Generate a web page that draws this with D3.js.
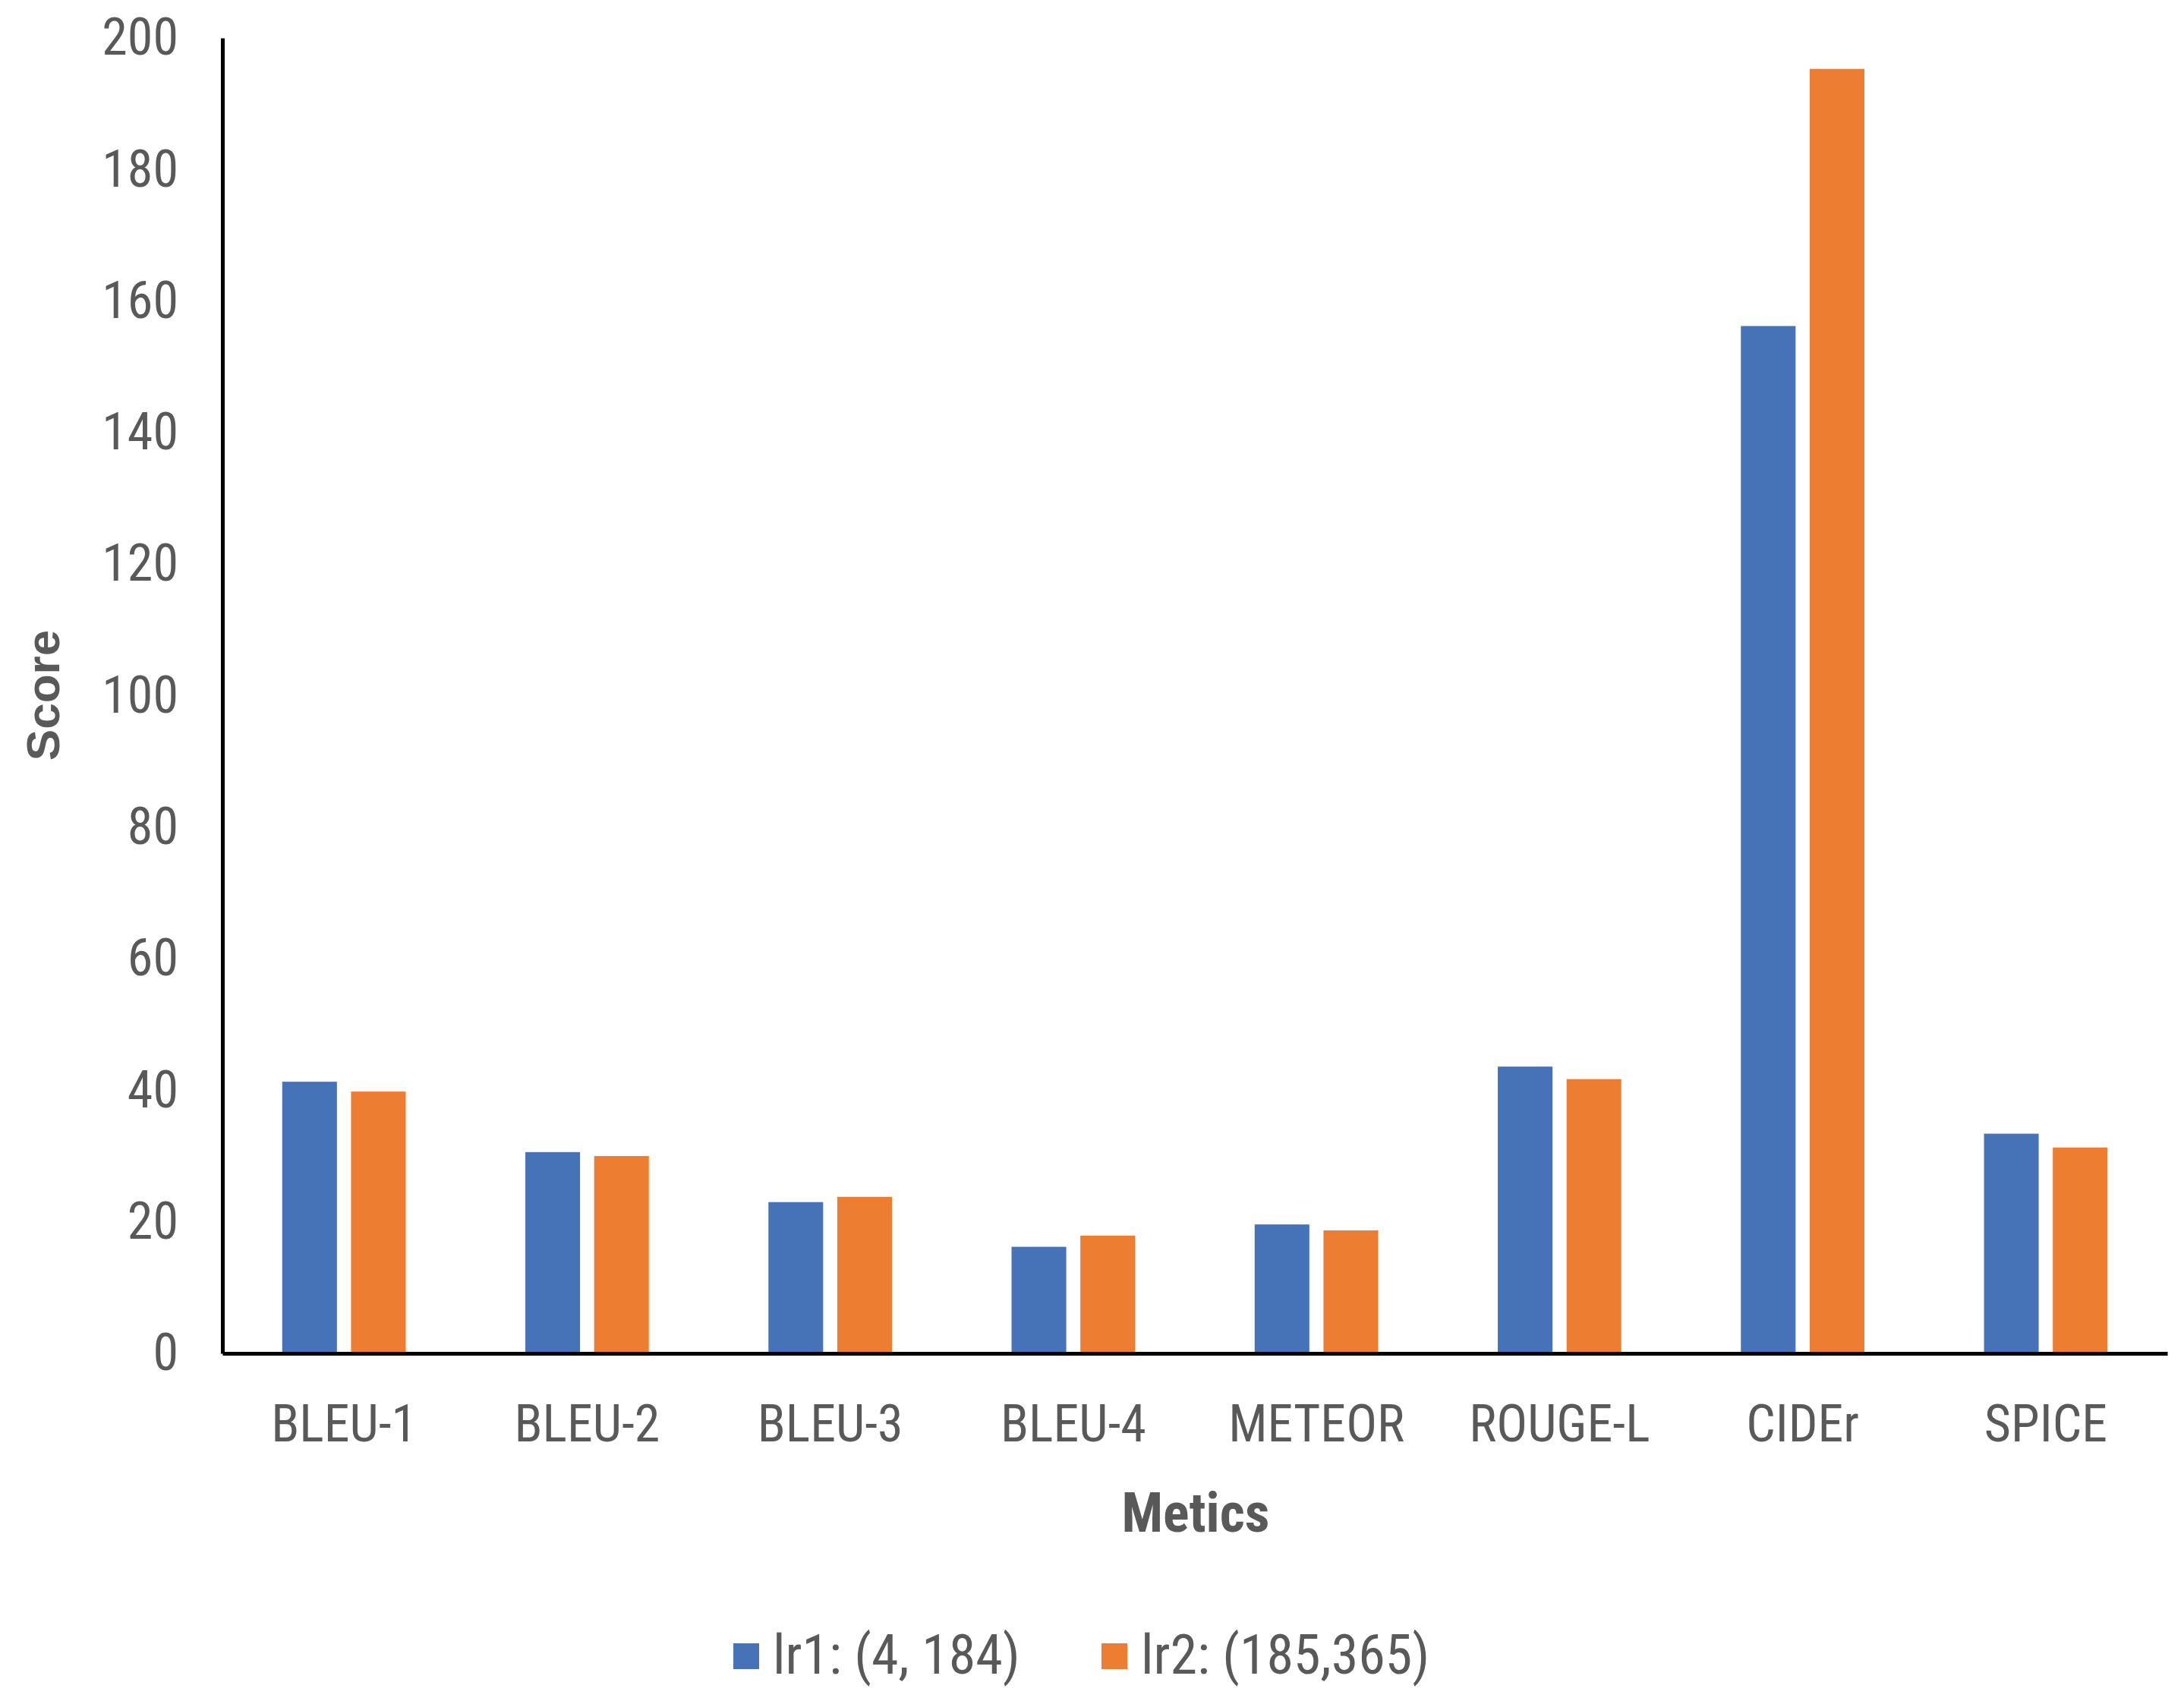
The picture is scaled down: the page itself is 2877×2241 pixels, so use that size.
<!DOCTYPE html>
<html><head><meta charset="utf-8">
<script src="https://cdn.jsdelivr.net/npm/d3@7"></script>
<style>body{margin:0;background:#fff}</style></head>
<body><svg id="c" width="2877" height="2241"></svg>
<script>
const categories=["BLEU-1","BLEU-2","BLEU-3","BLEU-4","METEOR","ROUGE-L","CIDEr","SPICE"];
const lr1=[41.3,30.6,23.0,16.2,19.6,43.6,156.2,33.4];
const lr2=[39.8,30.0,23.8,17.9,18.7,41.7,195.3,31.3];
const seriesNames=["lr1: (4, 184)","lr2: (185,365)"];
const colors=["#4672B8","#ED7D31"];
const yTicks=[0,20,40,60,80,100,120,140,160,180,200];
const font="'Liberation Sans Narrow','Roboto Condensed','DejaVu Sans Condensed',sans-serif";
const svg=d3.select("#c");
const L=293,R=2855,T=50,B=1783;
const x=d3.scaleBand().domain(categories).range([L,R]);
const y=d3.scaleLinear().domain([0,200]).range([B,T]);
const bw=x.bandwidth()*0.225, gap=x.bandwidth()*0.058;
[lr1,lr2].forEach((s,i)=>{
  svg.append("g").selectAll("rect").data(s).join("rect")
   .attr("x",(d,j)=>x(categories[j])+x.bandwidth()/2+(i===0?-gap/2-bw:gap/2))
   .attr("y",d=>y(d)).attr("width",bw).attr("height",d=>B-y(d)).attr("fill",colors[i]);
});
const ya=svg.append("g").attr("transform",`translate(${L},0)`).call(d3.axisLeft(y).tickValues(yTicks).tickSize(0).tickPadding(58));
ya.select(".domain").attr("stroke","#000").attr("stroke-width",5);
ya.selectAll("text").attr("font-family",font).attr("font-size",68).attr("fill","#595959");
const xa=svg.append("g").attr("transform",`translate(0,${B})`).call(d3.axisBottom(x).tickSize(0).tickPadding(68));
xa.select(".domain").attr("stroke","#000").attr("stroke-width",5);
xa.selectAll("text").attr("font-family",font).attr("font-size",68).attr("fill","#595959");
svg.append("text").attr("x",(L+R)/2-790+790*0).attr("x",1575).attr("y",2018).attr("text-anchor","middle")
 .attr("font-family",font).attr("font-weight","bold").attr("font-size",72).attr("fill","#595959").text("Metics");
svg.append("text").attr("transform","translate(78,916) rotate(-90)").attr("text-anchor","middle")
 .attr("font-family","'Liberation Sans',Arial,sans-serif").attr("font-weight","bold").attr("font-size",62).attr("fill","#595959").text("Score");
const lx=[966,1451];
seriesNames.forEach((n,i)=>{
  svg.append("rect").attr("x",lx[i]).attr("y",2165).attr("width",34).attr("height",34).attr("fill",colors[i]);
  svg.append("text").attr("x",lx[i]+52).attr("y",2205).attr("font-family",font).attr("font-size",72).attr("fill","#595959").text(n);
});
</script></body></html>
